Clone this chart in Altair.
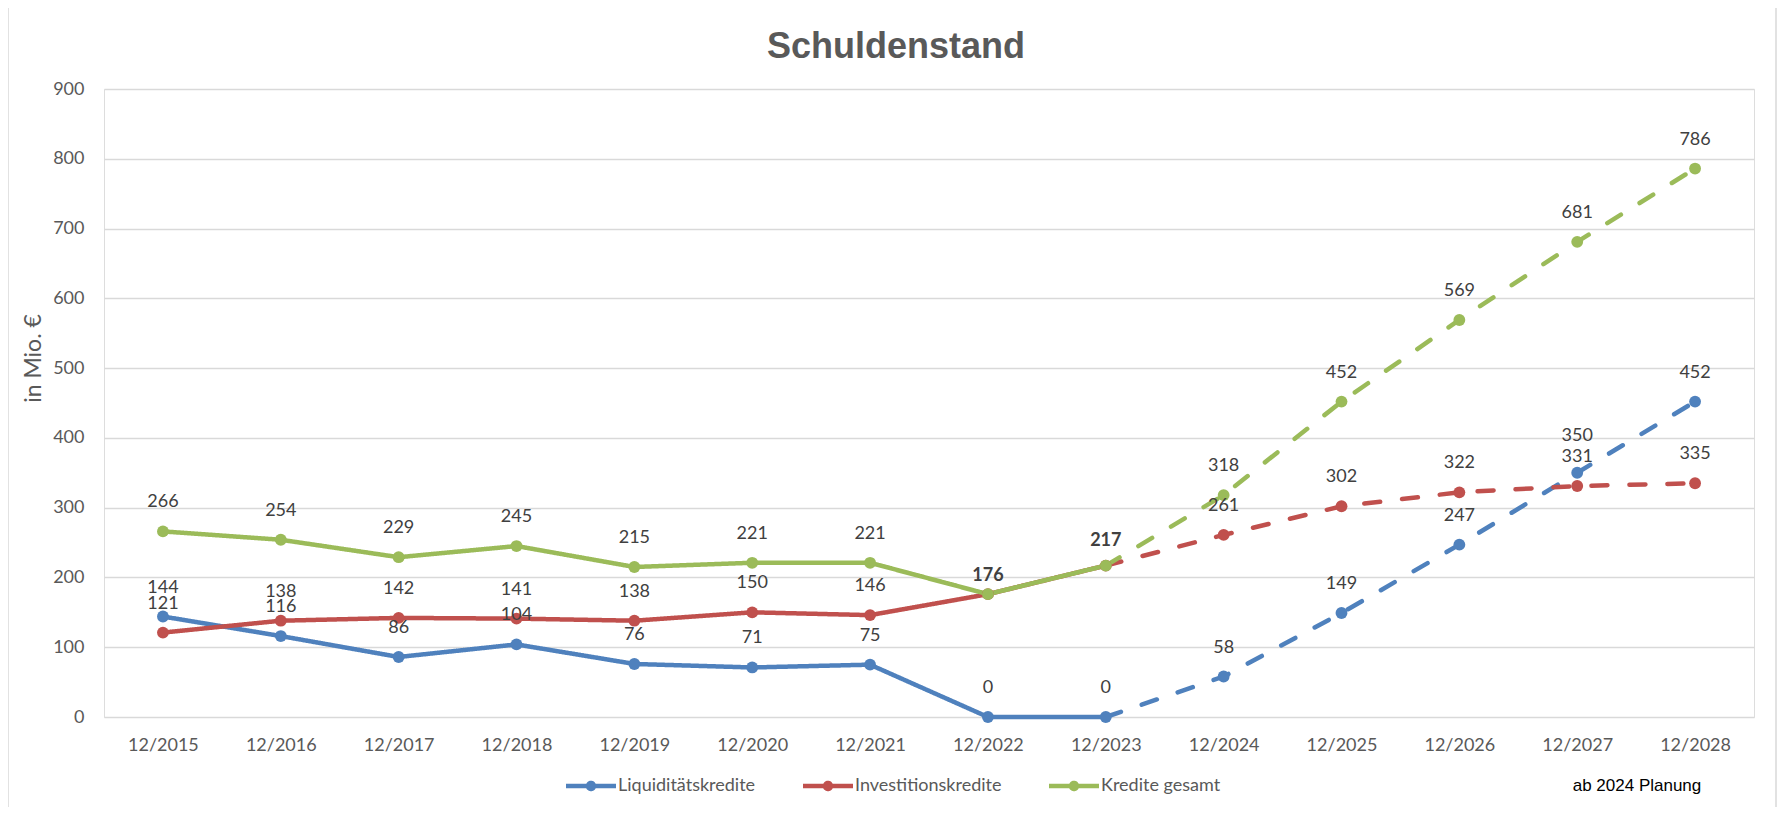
import altair as alt
import pandas as pd

jahre = ["12/2015", "12/2016", "12/2017", "12/2018", "12/2019", "12/2020", "12/2021",
         "12/2022", "12/2023", "12/2024", "12/2025", "12/2026", "12/2027", "12/2028"]
serien = ["Liquiditätskredite", "Investitionskredite", "Kredite gesamt"]
liquiditaetskredite = [144, 116, 86, 104, 76, 71, 75, 0, 0, 58, 149, 247, 350, 452]
investitionskredite = [121, 138, 142, 141, 138, 150, 146, 176, 217, 261, 302, 322, 331, 335]
kredite_gesamt = [266, 254, 229, 245, 215, 221, 221, 176, 217, 318, 452, 569, 681, 786]
farben = ["#4F81BD", "#C0504D", "#9BBB59"]
letztes_ist = "12/2023"
y_ticks = [0, 100, 200, 300, 400, 500, 600, 700, 800, 900]
titel_text = ["Schuldenstand"]
hinweis_text = ["ab 2024 Planung"]

werte = dict(zip(serien, [liquiditaetskredite, investitionskredite, kredite_gesamt]))
grenze = jahre.index(letztes_ist)
punkte, linien = [], []
for s in serien:
    for i, (j, v) in enumerate(zip(jahre, werte[s])):
        punkte.append({"Serie": s, "Jahr": j, "Wert": v, "o": i})
        if i <= grenze:
            linien.append({"Serie": s, "Jahr": j, "Wert": v, "Teil": "Ist", "o": i})
        if i >= grenze:
            linien.append({"Serie": s, "Jahr": j, "Wert": v, "Teil": "Plan", "o": i})
df_p = pd.DataFrame(punkte)
df_l = pd.DataFrame(linien)

GRAU = "#595959"
TXT = "#404040"

x_enc = alt.X("Jahr:N", sort=jahre,
              scale=alt.Scale(type="point", padding=0.5),
              axis=alt.Axis(title=None, labelAngle=0, labelFont="Lato", labelFontSize=18,
                            labelColor=GRAU, labelPadding=19, ticks=False, domain=False,
                            grid=False))
y_enc = alt.Y("Wert:Q", scale=alt.Scale(domain=[0, 900], nice=False, zero=True),
              axis=alt.Axis(values=y_ticks, title="in Mio. €", titleX=-71, titleY=269,
                            titleAngle=270, titleBaseline="middle", titleAlign="center",
                            titleFont="Lato", titleFontSize=23, titleFontWeight="normal",
                            titleColor=GRAU, labelFont="Lato", labelFontSize=18,
                            labelColor=GRAU, labelPadding=20, grid=True,
                            gridColor="#d9d9d9", gridWidth=1.5, domain=False, ticks=False))

# line with a filled dot built from concentric strokes
symbol_pfad = ("M-5,0L5,0"
               "M-0.6,0A0.6,0.6,0,1,1,0.6,0A0.6,0.6,0,1,1,-0.6,0"
               "M-0.2,0A0.2,0.2,0,1,1,0.2,0A0.2,0.2,0,1,1,-0.2,0")

legende = alt.Legend(
    title=None, orient="none", legendX=478, legendY=688, direction="horizontal",
    symbolType=symbol_pfad, symbolSize=100, symbolStrokeWidth=4.5, symbolDash=[1, 0],
    labelFont="Lato", labelFontSize=18, labelColor=GRAU, columnPadding=38,
    padding=0, labelOffset=18, symbolOpacity=1,
)
farb_skala = alt.Scale(domain=serien, range=farben)

rahmen = alt.Chart(alt.Data(values=[{"r": 1}])).mark_rect(
    fillOpacity=0, stroke="#d9d9d9", strokeWidth=1.5
).encode(x=alt.value(-96), x2=alt.value(1672), y=alt.value(-83), y2=alt.value(730))

linien_layer = alt.Chart(df_l).mark_line(strokeWidth=4.5, strokeCap="round").encode(
    x=x_enc, y=y_enc,
    color=alt.Color("Serie:N", scale=farb_skala, legend=legende),
    strokeDash=alt.StrokeDash("Teil:N", scale=alt.Scale(domain=["Ist", "Plan"],
                                                        range=[[1, 0], [16, 22]]),
                              legend=None),
    order=alt.Order("o:Q"),
)

punkte_layer = alt.Chart(df_p).mark_point(filled=True, size=140, opacity=1).encode(
    x=x_enc, y=y_enc,
    fill=alt.Fill("Serie:N", scale=farb_skala, legend=None),
)

normal_filter = ("!(datum.Serie != 'Liquiditätskredite' && (datum.Jahr == '12/2022' || datum.Jahr == '12/2023'))"
                 " && !(datum.Serie == 'Liquiditätskredite' && datum.Jahr == '12/2027')")

def label_layer(flt, dy, bold=False):
    return alt.Chart(df_p).mark_text(
        font="Lato", fontSize=18, color=TXT, dy=dy,
        fontWeight="bold" if bold else "normal"
    ).encode(x=x_enc, y=y_enc, text=alt.Text("Wert:Q", format="d")).transform_filter(flt)

t_normal = label_layer(normal_filter, -29)
t_350 = label_layer("datum.Serie == 'Liquiditätskredite' && datum.Jahr == '12/2027'", -37)
t_176 = label_layer("datum.Serie == 'Kredite gesamt' && datum.Jahr == '12/2022'", -18, True)
t_217 = label_layer("datum.Serie == 'Kredite gesamt' && datum.Jahr == '12/2023'", -25, True)

titel = alt.Chart(alt.Data(values=[{"t": t} for t in titel_text])).mark_text(
    font="Liberation Sans", fontSize=36, fontWeight="bold", color=GRAU,
    align="center", baseline="alphabetic"
).encode(x=alt.value(792), y=alt.value(-31), text="t:N")

hinweis = alt.Chart(alt.Data(values=[{"t": t} for t in hinweis_text])).mark_text(
    font="Liberation Sans", fontSize=17, color="#000000", align="center", baseline="middle"
).encode(x=alt.value(1533), y=alt.value(697), text="t:N")

chart = alt.layer(
    rahmen, linien_layer, punkte_layer, t_normal, t_350, t_176, t_217, titel, hinweis
).properties(
    width=1650, height=628,
    autosize=alt.AutoSizeParams(type="none"),
    padding={"left": 96, "top": 81, "right": 23, "bottom": 90},
).configure_view(stroke=None).configure(background="white")

chart.save("out.html", embed_options={"renderer": "svg", "actions": False})
